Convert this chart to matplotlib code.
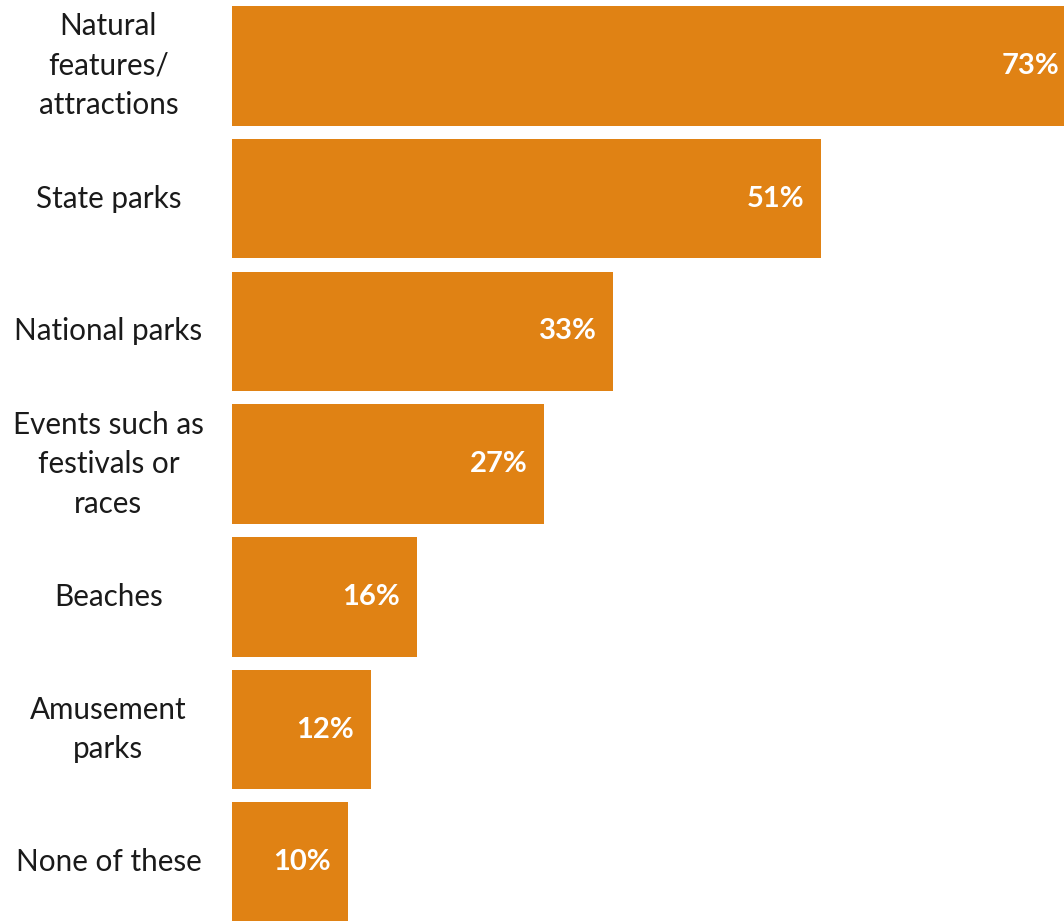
import matplotlib
matplotlib.use("Agg")
import matplotlib.pyplot as plt

categories = [
    "Natural\nfeatures/\nattractions",
    "State parks",
    "National parks",
    "Events such as\nfestivals or\nraces",
    "Beaches",
    "Amusement\nparks",
    "None of these",
]
values = [73, 51, 33, 27, 16, 12, 10]
value_labels = ["73%", "51%", "33%", "27%", "16%", "12%", "10%"]

BAR_COLOR = "#E08214"

fig = plt.figure(figsize=(10.64, 9.21), dpi=100)
ax = fig.add_axes([232 / 1064, 0, 1 - 232 / 1064, 1])

pos = list(range(len(categories)))
ax.barh(pos, values, height=0.9, color=BAR_COLOR)
ax.set_xlim(0, 72)
ax.set_ylim(6.443, -0.497)

ax.set_yticks(pos)
ax.set_yticklabels(categories, fontsize=21.3, family="Lato", color="#1a1a1a",
                   ha="center", va="center", linespacing=1.5)
ax.tick_params(axis="y", length=0, pad=89)
ax.set_xticks([])
for s in ax.spines.values():
    s.set_visible(False)

for p, v, lab in zip(pos, values, value_labels):
    ax.annotate(lab, xy=(v, p), xytext=(-12, 0), textcoords="offset points",
                ha="right", va="center", color="white", fontsize=21,
                fontweight="bold", family="Lato", annotation_clip=False)

fig.savefig("out.png", dpi=100)
